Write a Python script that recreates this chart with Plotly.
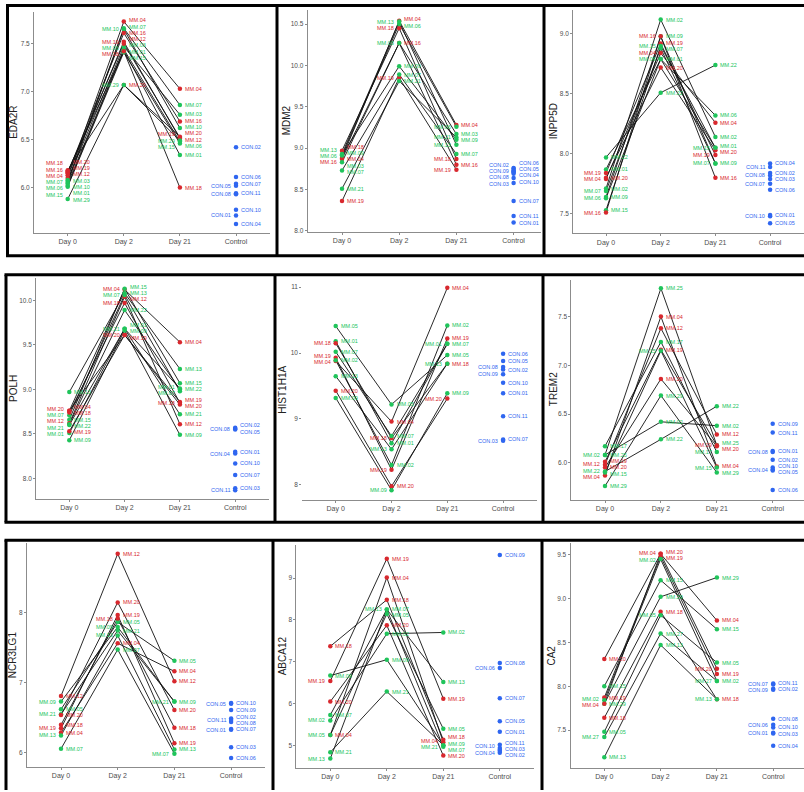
import plotly.graph_objects as go

W, H = 804, 792
CATEGORIES = ["Day 0", "Day 2", "Day 21", "Control"]
RED_GROUP = {"MM.04", "MM.12", "MM.16", "MM.18", "MM.19", "MM.20"}
COLORS = {"red": "#D8282E", "green": "#20C45B", "control": "#2F66F0"}
FONT = "Liberation Sans, Arial, sans-serif"

# ---------------- EDA2R
eda2r_ids = ["MM.04", "MM.07", "MM.10", "MM.16", "MM.12", "MM.03", "MM.06",
             "MM.15", "MM.01", "MM.18", "MM.19", "MM.20", "MM.29"]
eda2r_day0 = [6.10, 6.07, 6.05, 6.15, 6.13, 6.08, 6.04, 6.01, 6.02, 6.17, 6.16, 6.18, 5.88]
eda2r_day2 = [7.73, 7.66, 7.65, 7.61, 7.52, 7.47, 7.44, 7.41, 7.43, 7.42, 7.50, 7.07, 7.07]
eda2r_day21 = [7.03, 6.86, 6.62, 6.69, 6.51, 6.76, 6.48, 6.46, 6.34, 6.00, 6.52, 6.53, 6.49]
eda2r_con_ids = ["CON.02", "CON.06", "CON.07", "CON.05", "CON.11", "CON.08", "CON.10", "CON.01", "CON.04"]
eda2r_con = [6.42, 6.11, 6.04, 6.02, 5.94, 5.93, 5.77, 5.71, 5.62]
eda2r_ticks = [6.0, 6.5, 7.0, 7.5]

# ---------------- MDM2
mdm2_ids = ["MM.04", "MM.18", "MM.16", "MM.19", "MM.13", "MM.06", "MM.03",
            "MM.09", "MM.07", "MM.21"]
mdm2_day0 = [8.88, 8.97, 8.87, 8.36, 8.93, 8.91, 8.83, 8.92, 8.73, 8.51]
mdm2_day2 = [10.54, 10.45, 10.27, 9.85, 10.53, 10.50, 10.27, 9.99, 9.89, 9.81]
mdm2_day21 = [9.28, 8.87, 8.80, 8.74, 9.04, 9.26, 9.17, 9.10, 8.93, 9.13]
mdm2_con_ids = ["CON.06", "CON.02", "CON.05", "CON.09", "CON.04", "CON.08",
                "CON.10", "CON.03", "CON.07", "CON.11", "CON.01"]
mdm2_con = [8.76, 8.75, 8.73, 8.72, 8.71, 8.69, 8.64, 8.58, 8.36, 8.18, 8.10]
mdm2_ticks = [8.0, 8.5, 9.0, 9.5, 10.0, 10.5]

# ---------------- INPP5D
inpp5d_ids = ["MM.22", "MM.01", "MM.19", "MM.20", "MM.04", "MM.02", "MM.09",
              "MM.06", "MM.15", "MM.16", "MM.07"]
inpp5d_day0 = [7.97, 7.87, 7.84, 7.80, 7.79, 7.71, 7.64, 7.63, 7.53, 7.51, 7.69]
inpp5d_day2 = [8.51, 8.79, 8.92, 8.72, 8.84, 9.12, 8.98, 8.79, 8.90, 8.98, 8.88]
inpp5d_day21 = [8.74, 8.05, 7.99, 8.03, 8.26, 8.14, 7.92, 8.32, 8.05, 7.80, 7.92]
inpp5d_con_ids = ["CON.04", "CON.11", "CON.02", "CON.08", "CON.03", "CON.07",
                  "CON.06", "CON.01", "CON.10", "CON.05"]
inpp5d_con = [7.92, 7.89, 7.84, 7.82, 7.79, 7.75, 7.70, 7.49, 7.48, 7.42]
inpp5d_ticks = [7.5, 8.0, 8.5, 9.0]

# ---------------- POLH
polh_ids = ["MM.04", "MM.15", "MM.13", "MM.12", "MM.07", "MM.18", "MM.22",
            "MM.01", "MM.20", "MM.19", "MM.09", "MM.21"]
polh_day0 = [8.76, 8.66, 8.97, 8.62, 8.71, 8.74, 8.61, 8.51, 8.76, 8.53, 8.43, 8.60]
polh_day2 = [10.12, 10.13, 10.08, 10.04, 10.06, 9.97, 9.89, 9.68, 9.61, 9.61, 9.66, 9.68]
polh_day21 = [9.53, 9.07, 9.23, 8.61, 8.98, 8.85, 9.00, 9.01, 8.83, 8.86, 8.49, 8.72]
polh_con_ids = ["CON.02", "CON.08", "CON.05", "CON.01", "CON.04", "CON.10",
                "CON.07", "CON.03", "CON.11"]
polh_con = [8.57, 8.56, 8.55, 8.30, 8.28, 8.17, 8.04, 7.89, 7.87]
polh_ticks = [8.0, 8.5, 9.0, 9.5, 10.0]

# ---------------- HIST1H1A
hist_ids = ["MM.05", "MM.01", "MM.18", "MM.07", "MM.04", "MM.19", "MM.02",
            "MM.13", "MM.20", "MM.09"]
hist_day0 = [10.41, 10.18, 10.15, 10.02, 9.88, 9.93, 9.89, 9.65, 9.43, 9.32]
hist_day2 = [9.22, 8.63, 8.71, 8.74, 8.96, 8.23, 8.30, 8.54, 7.98, 7.92]
hist_day21 = [9.97, 10.14, 9.84, 10.14, 10.99, 10.22, 10.42, 9.84, 9.31, 9.39]
hist_con_ids = ["CON.06", "CON.05", "CON.08", "CON.02", "CON.09", "CON.10",
                "CON.01", "CON.11", "CON.07", "CON.03"]
hist_con = [9.99, 9.88, 9.79, 9.75, 9.68, 9.55, 9.39, 9.04, 8.69, 8.67]
hist_ticks = [8, 9, 10, 11]

# ---------------- TREM2
trem2_ids = ["MM.25", "MM.04", "MM.12", "MM.17", "MM.19", "MM.15", "MM.20",
             "MM.29", "MM.02", "MM.22"]
trem2_day0 = [6.08, 5.87, 5.98, 6.17, 6.01, 5.90, 5.95, 5.76, 6.08, 5.91]
trem2_day2 = [7.79, 7.50, 7.38, 7.24, 7.16, 7.15, 6.86, 6.69, 6.42, 6.24]
trem2_day21 = [6.18, 5.96, 6.29, 6.11, 6.18, 5.95, 6.17, 5.90, 6.38, 6.58]
trem2_con_ids = ["CON.09", "CON.11", "CON.01", "CON.08", "CON.02", "CON.10",
                 "CON.04", "CON.05", "CON.06"]
trem2_con = [6.40, 6.31, 6.12, 6.11, 6.03, 5.95, 5.93, 5.92, 5.72]
trem2_ticks = [6.0, 6.5, 7.0, 7.5]

# ---------------- NCR3LG1
ncr_ids = ["MM.12", "MM.05", "MM.09", "MM.21", "MM.20", "MM.18", "MM.19",
           "MM.04", "MM.13", "MM.07"]
ncr_day0 = [6.81, 6.62, 6.73, 6.55, 6.54, 6.40, 6.35, 6.29, 6.25, 6.06]
ncr_day2 = [8.83, 7.86, 7.79, 7.74, 8.14, 7.91, 7.96, 7.56, 7.67, 7.47]
ncr_day21 = [7.02, 7.31, 6.73, 6.73, 6.61, 6.36, 6.14, 7.16, 6.05, 5.99]
ncr_con_ids = ["CON.10", "CON.05", "CON.09", "CON.02", "CON.11", "CON.08",
               "CON.07", "CON.01", "CON.03", "CON.06"]
ncr_con = [6.71, 6.70, 6.61, 6.49, 6.47, 6.44, 6.34, 6.33, 6.08, 5.93]
ncr_ticks = [6, 7, 8]

# ---------------- ABCA12
abca_ids = ["MM.18", "MM.09", "MM.19", "MM.20", "MM.07", "MM.02", "MM.04",
            "MM.05", "MM.21", "MM.13"]
abca_day0 = [7.37, 6.67, 6.54, 6.05, 5.73, 5.60, 5.25, 5.25, 4.84, 4.69]
abca_day2 = [8.48, 7.05, 9.46, 7.87, 8.25, 7.67, 9.01, 8.14, 6.29, 8.25]
abca_day21 = [5.14, 5.01, 6.12, 4.76, 4.97, 7.70, 5.08, 5.40, 5.01, 6.52]
abca_con_ids = ["CON.09", "CON.08", "CON.06", "CON.07", "CON.05", "CON.01",
                "CON.11", "CON.10", "CON.03", "CON.04", "CON.02"]
abca_con = [9.55, 6.97, 6.85, 6.13, 5.58, 5.33, 5.02, 4.94, 4.90, 4.87, 4.83]
abca_ticks = [5, 6, 7, 8, 9]

# ---------------- CA2
ca2_ids = ["MM.20", "MM.15", "MM.19", "MM.02", "MM.29", "MM.04", "MM.18",
           "MM.05", "MM.27", "MM.13"]
ca2_day0 = [8.31, 8.00, 7.87, 7.84, 7.80, 7.80, 7.64, 7.48, 7.42, 7.19]
ca2_day2 = [9.51, 9.21, 9.48, 9.45, 9.02, 9.51, 8.85, 8.81, 8.60, 8.47]
ca2_day21 = [8.20, 8.65, 8.14, 8.06, 9.24, 8.75, 7.85, 8.27, 8.06, 7.85]
ca2_con_ids = ["CON.11", "CON.07", "CON.02", "CON.09", "CON.08", "CON.06",
               "CON.10", "CON.01", "CON.03", "CON.04"]
ca2_con = [8.03, 8.02, 7.97, 7.96, 7.63, 7.56, 7.53, 7.47, 7.46, 7.32]
ca2_ticks = [7.5, 8.0, 8.5, 9.0, 9.5]

panels = [
    ("EDA2R", eda2r_ids, eda2r_day0, eda2r_day2, eda2r_day21, eda2r_con_ids, eda2r_con, eda2r_ticks),
    ("MDM2", mdm2_ids, mdm2_day0, mdm2_day2, mdm2_day21, mdm2_con_ids, mdm2_con, mdm2_ticks),
    ("INPP5D", inpp5d_ids, inpp5d_day0, inpp5d_day2, inpp5d_day21, inpp5d_con_ids, inpp5d_con, inpp5d_ticks),
    ("POLH", polh_ids, polh_day0, polh_day2, polh_day21, polh_con_ids, polh_con, polh_ticks),
    ("HIST1H1A", hist_ids, hist_day0, hist_day2, hist_day21, hist_con_ids, hist_con, hist_ticks),
    ("TREM2", trem2_ids, trem2_day0, trem2_day2, trem2_day21, trem2_con_ids, trem2_con, trem2_ticks),
    ("NCR3LG1", ncr_ids, ncr_day0, ncr_day2, ncr_day21, ncr_con_ids, ncr_con, ncr_ticks),
    ("ABCA12", abca_ids, abca_day0, abca_day2, abca_day21, abca_con_ids, abca_con, abca_ticks),
    ("CA2", ca2_ids, ca2_day0, ca2_day2, ca2_day21, ca2_con_ids, ca2_con, ca2_ticks),
]

# Page geometry of each panel (pixels): first category x, category spacing,
# x-axis line y, top of plot y, right end x, y-range, y-title x
GEOM = {
    "EDA2R":    dict(c0=67.7, sp=56.1, yb=233.3, yt=12.0, xr=270.0, yr=(5.53, 7.83), tx=13.5),
    "MDM2":     dict(c0=342.0, sp=57.2, yb=232.3, yt=10.0, xr=541.0, yr=(7.99, 10.67), tx=286.5),
    "INPP5D":   dict(c0=606.0, sp=54.7, yb=234.0, yt=10.0, xr=804.0, yr=(7.336, 9.20), tx=553.5),
    "POLH":     dict(c0=69.3, sp=55.3, yb=500.3, yt=278.7, xr=268.5, yr=(7.77, 10.25), tx=13.5),
    "HIST1H1A": dict(c0=335.7, sp=55.8, yb=501.3, yt=280.0, xr=536.5, yr=(7.77, 11.12), tx=283.0),
    "TREM2":    dict(c0=605.0, sp=55.9, yb=501.0, yt=280.3, xr=804.0, yr=(5.62, 7.88), tx=553.5),
    "NCR3LG1":  dict(c0=61.0, sp=56.7, yb=769.0, yt=544.7, xr=265.0, yr=(5.80, 8.98), tx=12.0),
    "ABCA12":   dict(c0=330.3, sp=56.5, yb=769.7, yt=546.3, xr=533.6, yr=(4.47, 9.79), tx=282.0),
    "CA2":      dict(c0=604.3, sp=56.3, yb=769.7, yt=544.7, xr=804.0, yr=(7.07, 9.63), tx=552.0),
}
NO_YLINE = {"HIST1H1A"}
LABEL_GAP = 6.3   # minimum vertical distance between labels on one side (px)


def label_sides(values, to_px, gap=LABEL_GAP):
    """Alternate label sides so that neighbouring labels do not collide."""
    order = sorted(range(len(values)), key=lambda i: -values[i])
    sides = [None] * len(values)
    last = {"right": -1e9, "left": -1e9}
    for i in order:
        py = to_px(values[i])
        if py - last["right"] >= gap:
            s = "right"
        elif py - last["left"] >= gap:
            s = "left"
        else:
            s = "right" if last["right"] <= last["left"] else "left"
        sides[i] = s
        last[s] = py
    return sides


def repel(desired, gap=LABEL_GAP):
    """1-D repulsion: spread sorted pixel positions so they are >= gap apart,
    keeping every crowded group centred on its points."""
    clusters = []
    for y in desired:
        clusters.append([y])
        while len(clusters) > 1:
            a, b = clusters[-2], clusters[-1]
            top_a = sum(a) / len(a) - (len(a) - 1) * gap / 2
            top_b = sum(b) / len(b) - (len(b) - 1) * gap / 2
            if top_a + len(a) * gap > top_b:
                clusters[-2:] = [a + b]
            else:
                break
    out = []
    for c in clusters:
        top = sum(c) / len(c) - (len(c) - 1) * gap / 2
        out += [top + j * gap for j in range(len(c))]
    return out


fig = go.Figure()
annotations = []
layout_axes = {}

for k, (gene, ids, d0, d2, d21, cids, cvals, ticks) in enumerate(panels, start=1):
    g = GEOM[gene]
    xa = "x" if k == 1 else f"x{k}"
    ya = "y" if k == 1 else f"y{k}"
    y0, y1 = g["yr"]
    scale = (g["yb"] - g["yt"]) / (y1 - y0)

    def to_px(v, g=g, y0=y0, scale=scale):
        return g["yb"] - (v - y0) * scale

    def to_val(py, g=g, y0=y0, scale=scale):
        return y0 + (g["yb"] - py) / scale

    # connecting lines for each patient
    lx, ly = [], []
    for a, b, c in zip(d0, d2, d21):
        lx += [0, 1, 2, None]
        ly += [a, b, c, None]
    fig.add_trace(go.Scatter(x=lx, y=ly, mode="lines", xaxis=xa, yaxis=ya,
                             line=dict(color="#111111", width=0.9),
                             hoverinfo="skip", showlegend=False))

    # points, grouped by category column
    columns = []
    for xi, vals in enumerate([d0, d2, d21]):
        cols = [COLORS["red"] if pid in RED_GROUP else COLORS["green"] for pid in ids]
        columns.append((xi, list(ids), list(vals), cols))
    columns.append((3, list(cids), list(cvals), [COLORS["control"]] * len(cids)))

    px_, py_, pc_ = [], [], []
    for xi, names, vals, cols in columns:
        px_ += [xi] * len(vals)
        py_ += vals
        pc_ += cols
        sides = label_sides(vals, to_px)
        for side in ("right", "left"):
            idx = [i for i in range(len(vals)) if sides[i] == side]
            idx.sort(key=lambda i: -vals[i])
            pos = repel([to_px(vals[i]) for i in idx])
            for i, p in zip(idx, pos):
                annotations.append(dict(
                    text=names[i], x=xi, y=to_val(p), xref=xa, yref=ya,
                    xanchor="left" if side == "right" else "right",
                    yanchor="middle", xshift=3 if side == "right" else -3,
                    showarrow=False,
                    font=dict(size=5.5, color=cols[i], family=FONT)))

    fig.add_trace(go.Scatter(
        x=px_, y=py_, mode="markers", marker=dict(color=pc_, size=4.5),
        cliponaxis=False, xaxis=xa, yaxis=ya, hoverinfo="skip",
        showlegend=False))

    xl = g["c0"] - 0.6 * g["sp"]
    xr_val = (g["xr"] - g["c0"]) / g["sp"]
    is_int = gene in ("HIST1H1A", "NCR3LG1", "ABCA12")
    layout_axes["xaxis" if k == 1 else f"xaxis{k}"] = dict(
        domain=[xl / W, g["xr"] / W], range=[-0.6, xr_val], anchor=ya,
        tickmode="array", tickvals=[0, 1, 2, 3], ticktext=CATEGORIES,
        showline=True, linecolor="#8C8C8C", linewidth=1, showgrid=False,
        zeroline=False, ticks="outside", ticklen=2, tickcolor="#8C8C8C",
        tickfont=dict(size=7, color="#4D4D4D", family=FONT), fixedrange=True)
    layout_axes["yaxis" if k == 1 else f"yaxis{k}"] = dict(
        domain=[1 - g["yb"] / H, 1 - g["yt"] / H], range=[y0, y1], anchor=xa,
        tickmode="array", tickvals=ticks,
        ticktext=[(f"{t:.0f}" if is_int else f"{t:.1f}") for t in ticks],
        showline=gene not in NO_YLINE, linecolor="#8C8C8C", linewidth=1,
        showgrid=False, zeroline=False, ticks="outside", ticklen=2,
        tickcolor="#8C8C8C", tickfont=dict(size=6.5, color="#4D4D4D", family=FONT),
        fixedrange=True)
    annotations.append(dict(
        text=gene, xref="paper", yref="paper", x=g["tx"] / W,
        y=1 - (g["yb"] + g["yt"]) / 2 / H, textangle=-90, showarrow=False,
        xanchor="center", yanchor="middle",
        font=dict(size=10, color="#222222", family=FONT)))


# black frames around the panels
def hline(y, x0, x1):
    return dict(type="line", xref="paper", yref="paper", x0=x0 / W, x1=x1 / W,
                y0=1 - y / H, y1=1 - y / H, line=dict(color="black", width=3),
                layer="above")


def vline(x, y0, y1):
    return dict(type="line", xref="paper", yref="paper", x0=x / W, x1=x / W,
                y0=1 - y0 / H, y1=1 - y1 / H, line=dict(color="black", width=3),
                layer="above")


shapes = [
    hline(5.5, 6, 804), hline(256.5, 6, 804),
    hline(275.5, 4.5, 804), hline(523.5, 4.5, 804),
    hline(541.5, 4.5, 804),
    vline(7.5, 5.5, 256.5), vline(277, 5.5, 256.5), vline(544, 5.5, 256.5),
    vline(6, 275.5, 523.5), vline(275, 275.5, 523.5), vline(543, 275.5, 523.5),
    vline(6, 541.5, 792), vline(273, 541.5, 792), vline(542, 541.5, 792),
]

fig.update_layout(
    width=W, height=H, margin=dict(l=0, r=0, t=0, b=0),
    paper_bgcolor="white", plot_bgcolor="white",
    annotations=annotations, shapes=shapes, showlegend=False,
    font=dict(family=FONT), **layout_axes)

fig.write_html("out.html")
